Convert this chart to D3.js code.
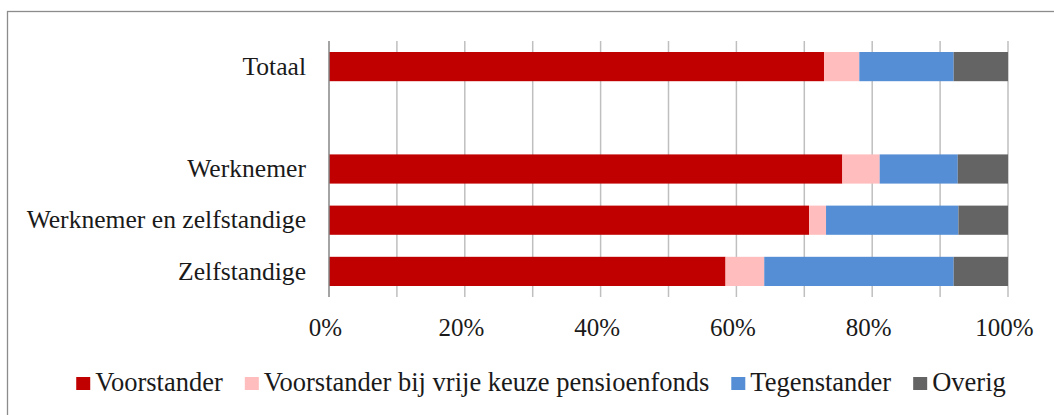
<!DOCTYPE html>
<html><head><meta charset="utf-8">
<script src="https://cdn.jsdelivr.net/npm/d3@7"></script>
<style>body{margin:0;background:#fff}svg{display:block}text{font-family:"Liberation Serif","Times New Roman",serif;fill:#1a1a1a}</style>
</head><body><svg id="c" width="1054" height="415"></svg>
<script>
const categories = ["Totaal", "", "Werknemer", "Werknemer en zelfstandige", "Zelfstandige"];
const seriesNames = ["Voorstander", "Voorstander bij vrije keuze pensioenfonds", "Tegenstander", "Overig"];
const voorstander = [72.9, null, 75.6, 70.7, 58.4];
const voorstanderVrij = [5.2, null, 5.5, 2.5, 5.7];
const tegenstander = [13.9, null, 11.5, 19.5, 27.9];
const overig = [8.0, null, 7.4, 7.3, 8.0];
const tickValues = [0, 20, 40, 60, 80, 100];
const colors = ["#C00000", "#FFBDBD", "#558ED5", "#646464"];

const svg = d3.select("#c");
const W = 1054, H = 415;
const m = {left: 329, right: 46, top: 41, bottom: 118};
const x = d3.scaleLinear().domain([0, 100]).range([m.left, W - m.right]);
const y = d3.scaleBand().domain(categories.map((c, i) => i)).range([m.top, H - m.bottom]).paddingInner(0.43).paddingOuter(0.215);

// outer border
svg.append("rect").attr("x", 7.5).attr("y", 11.5).attr("width", 1060).attr("height", 420)
  .attr("fill", "none").attr("stroke", "#8c8c8c").attr("stroke-width", 1.3);

// gridlines every 10%
svg.append("g").selectAll("line").data(d3.range(10, 101, 10)).join("line")
  .attr("x1", d => x(d)).attr("x2", d => x(d))
  .attr("y1", m.top).attr("y2", H - m.bottom)
  .attr("stroke", "#bfbfbf").attr("stroke-width", 1.5);

// stacked data
const rows = categories.map((c, i) => ({i, c, v: [voorstander[i], voorstanderVrij[i], tegenstander[i], overig[i]]}));
const stack = d3.stack().keys([0, 1, 2, 3]).value((d, k) => d.v[k] == null ? 0 : d.v[k]);
const layers = stack(rows.filter(r => r.v[0] != null));

svg.append("g").selectAll("g").data(layers).join("g")
  .attr("fill", (d, k) => colors[k])
  .selectAll("rect").data(d => d).join("rect")
  .attr("x", d => x(d[0])).attr("width", d => x(d[1]) - x(d[0]))
  .attr("y", d => y(d.data.i)).attr("height", y.bandwidth());

// vertical axis line
svg.append("line").attr("x1", x(0)).attr("x2", x(0)).attr("y1", m.top).attr("y2", H - m.bottom)
  .attr("stroke", "#868686").attr("stroke-width", 1.5);

// category labels
const yAxis = d3.axisLeft(y).tickSize(0).tickPadding(23).tickFormat(i => categories[i]);
const ya = svg.append("g").attr("transform", `translate(${x(0)},0)`).call(yAxis);
ya.select(".domain").remove();
ya.selectAll("text").style("font-size", "25.6px").attr("fill", "#1a1a1a").style("font-family", '"Liberation Serif",serif');

// x tick labels
const xAxis = d3.axisBottom(x).tickValues(tickValues).tickSize(0).tickPadding(0).tickFormat(d => d + "%");
const xa = svg.append("g").attr("transform", `translate(-4,${H - m.bottom})`).call(xAxis);
xa.select(".domain").remove();
xa.selectAll("text").attr("dy", null).attr("y", 39).style("font-size", "25px").attr("fill", "#1a1a1a").style("font-family", '"Liberation Serif",serif');

// legend
const lg = svg.append("g");
const items = lg.selectAll("g").data(seriesNames).join("g");
items.append("rect").attr("width", 14).attr("height", 13).attr("y", 377).attr("fill", (d, k) => colors[k]);
items.append("text").attr("x", 19).attr("y", 391).style("font-size", "26.5px").text(d => d);
let cx = 0; const pos = [];
items.each(function () {
  const w = d3.select(this).select("text").node().getComputedTextLength();
  pos.push(cx); cx += 19 + w + 22;
});
const total = cx - 22;
const start = 541 - total / 2;
items.attr("transform", (d, k) => `translate(${start + pos[k]},0)`);
</script></body></html>
